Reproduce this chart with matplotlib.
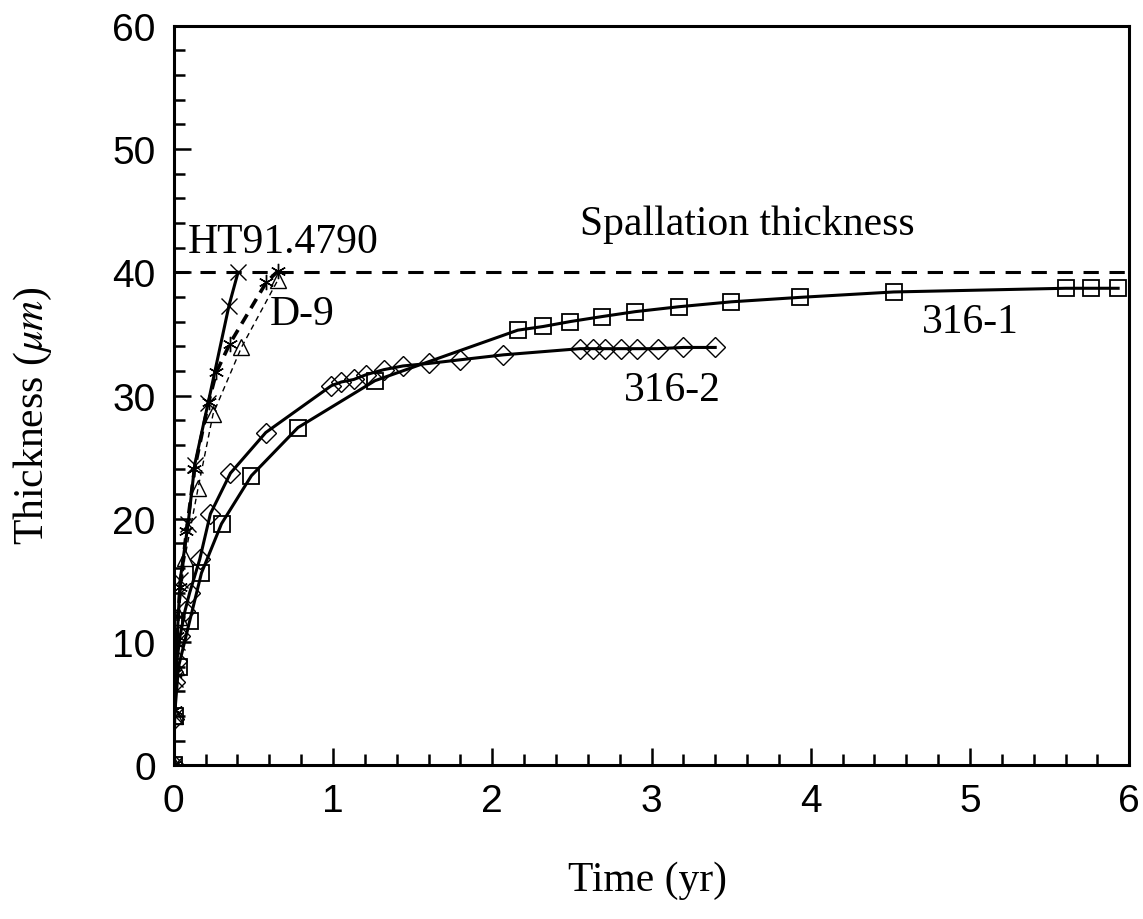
import matplotlib
matplotlib.use("Agg")
import matplotlib.pyplot as plt
from matplotlib.ticker import MultipleLocator

# 316-1 (squares)
t_316_1 = [0, 0.005, 0.03, 0.1, 0.174, 0.30, 0.488, 0.78, 1.263, 2.16, 2.32, 2.49,
           2.687, 2.896, 3.17, 3.50, 3.93, 4.52, 5.60, 5.76, 5.93]
th_316_1 = [0, 4.0, 8.0, 11.7, 15.6, 19.6, 23.5, 27.4, 31.2, 35.3, 35.6, 36.0,
            36.4, 36.8, 37.2, 37.6, 37.96, 38.4, 38.7, 38.7, 38.7]

# 316-2 (diamonds)
t_316_2 = [0, 0.003, 0.01, 0.02, 0.04, 0.07, 0.1, 0.163, 0.23, 0.356, 0.578, 0.99,
           1.053, 1.13, 1.21, 1.32, 1.44, 1.60, 1.80, 2.07, 2.55, 2.63, 2.71, 2.81,
           2.91, 3.04, 3.20, 3.40]
th_316_2 = [0, 3.8, 6.8, 8.5, 10.5, 12.5, 14.0, 16.7, 20.4, 23.7, 27.0, 30.8,
            31.1, 31.3, 31.7, 32.1, 32.4, 32.6, 32.9, 33.3, 33.8, 33.8, 33.8, 33.8,
            33.8, 33.8, 33.9, 33.9]

# HT91.4790 (x markers)
t_ht91 = [0, 0.005, 0.01, 0.02, 0.04, 0.09, 0.132, 0.216, 0.347, 0.404]
th_ht91 = [0, 4.0, 7.0, 10.0, 15.0, 19.6, 24.4, 29.4, 37.3, 40.0]

# D-9 (asterisks, thick dashed)
t_d9a = [0, 0.005, 0.01, 0.02, 0.04, 0.08, 0.13, 0.22, 0.268, 0.352, 0.582, 0.655]
th_d9a = [0, 4.5, 7.5, 10.5, 14.5, 19.0, 24.0, 29.5, 31.9, 34.2, 39.2, 40.1]

# D-9 (triangles, thin dashed)
t_d9b = [0, 0.005, 0.015, 0.03, 0.069, 0.153, 0.247, 0.425, 0.655]
th_d9b = [0, 4.0, 8.0, 12.0, 16.8, 22.5, 28.5, 33.9, 39.4]

spall_t = [0, 6]
spall_th = [40, 40]

serif = ['Liberation Serif', 'DejaVu Serif']
plt.rcParams['mathtext.fontset'] = 'stix'

fig = plt.figure(figsize=(11.43, 9.2), dpi=100)
ax = fig.add_axes([0.152, 0.167, 0.836, 0.804])

ax.plot(spall_t, spall_th, color='black', lw=2.2, linestyle=(0, (5, 3.5)))

ax.plot(t_316_1, th_316_1, color='black', lw=2.2, marker='s', ms=12,
        mfc='none', mec='black', mew=1.3)
ax.plot(t_316_2, th_316_2, color='black', lw=2.2, marker='D', ms=10,
        mfc='none', mec='black', mew=1.0)
ax.plot(t_ht91, th_ht91, color='black', lw=2.2, marker='x', ms=11, mew=1.0)
ax.plot(t_d9a, th_d9a, color='black', lw=2.6, linestyle=(0, (3, 2)),
        marker=(6, 2, 0), ms=11, mew=1.0)
ax.plot(t_d9b, th_d9b, color='black', lw=1.0, linestyle=(0, (4, 3)),
        marker='^', ms=12, mfc='none', mec='black', mew=1.0)

ax.set_xlim(0, 6)
ax.set_ylim(0, 60)
ax.xaxis.set_major_locator(MultipleLocator(1))
ax.xaxis.set_minor_locator(MultipleLocator(0.2))
ax.yaxis.set_major_locator(MultipleLocator(10))
ax.yaxis.set_minor_locator(MultipleLocator(2))
ax.tick_params(which='both', direction='in', width=1.8, top=False, right=False)
ax.tick_params(which='major', length=12, labelsize=28, pad=13)
ax.tick_params(which='minor', length=8)
for lab in ax.get_xticklabels() + ax.get_yticklabels():
    lab.set_family('Liberation Sans')
for s in ax.spines.values():
    s.set_linewidth(2.2)

ax.text(2.55, 43.9, 'Spallation thickness', fontsize=30, family=serif,
        ha='left', va='center')
ax.text(0.088, 42.45, 'HT91.4790', fontsize=30, family=serif, ha='left', va='center')
ax.text(0.60, 36.6, 'D-9', fontsize=30, family=serif, ha='left', va='center')
ax.text(2.83, 30.5, '316-2', fontsize=30, family=serif, ha='left', va='center')
ax.text(4.70, 36.0, '316-1', fontsize=30, family=serif, ha='left', va='center')

ax.set_xlabel('Time (yr)', fontsize=30, family=serif)
ax.set_ylabel(r'Thickness ($\mu m$)', fontsize=30, family=serif)
ax.xaxis.set_label_coords(0.496, -0.128)
ax.yaxis.set_label_coords(-0.125, 0.475)

fig.savefig('out.png', dpi=100)
